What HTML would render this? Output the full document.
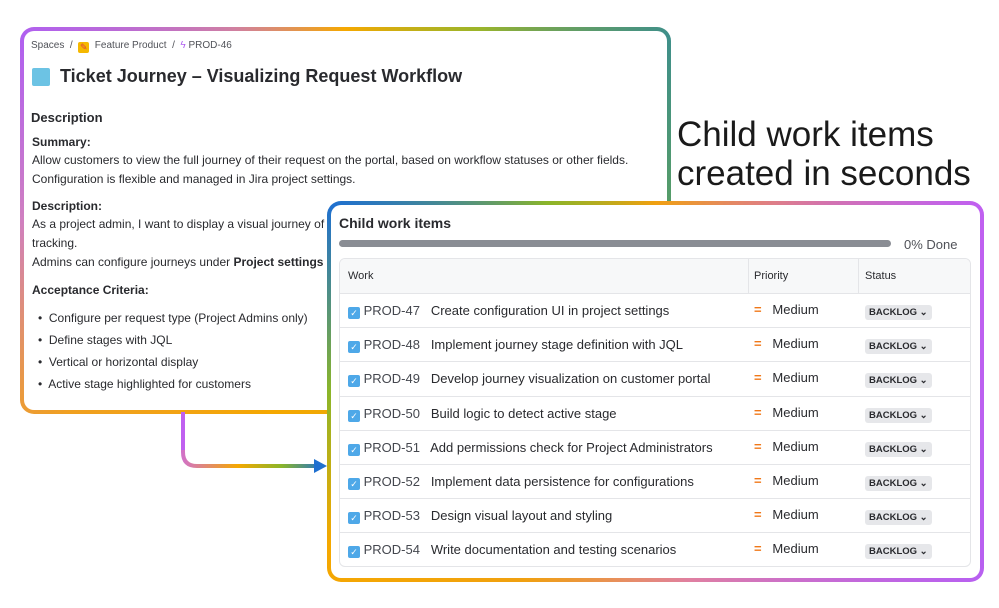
<!DOCTYPE html><html><head><style>
*{margin:0;padding:0;box-sizing:border-box}
body{width:999px;height:608px;background:#fff;position:relative;overflow:hidden;font-family:"Liberation Sans",sans-serif;color:#292a2e}
.a{position:absolute;white-space:nowrap}
.b1{position:absolute;left:20px;top:27px;width:651px;height:387px;border-radius:14px;padding:4px;background:conic-gradient(from 0deg at 50% 50%,#f5a800 0deg,#9bb52a 35deg,#3f8f8a 60deg,#6aa84a 110deg,#e3aa10 150deg,#f5a800 200deg,#f0a020 235deg,#d080c0 270deg,#b060f0 300deg,#d080a0 330deg,#f5a800 360deg)}
.b2{position:absolute;left:327px;top:201px;width:657px;height:381px;border-radius:14px;padding:4px;background:conic-gradient(from 0deg at 50% 50%,#f0a010 0deg,#e08080 30deg,#c060f0 60deg,#b860f0 120deg,#e080a0 170deg,#f0a010 215deg,#f5a800 245deg,#8ab52a 270deg,#1f70d0 300deg,#8ab52a 330deg,#f0a010 360deg)}
.in{width:100%;height:100%;background:#fff;border-radius:10px;position:relative}
.t{font-size:12px;color:#292a2e}
.cb{display:inline-block;width:12px;height:12px;background:#4ea8e8;border-radius:2px;color:#fff;font-size:9px;line-height:12px;text-align:center;vertical-align:-1px}
.pill{display:inline-block;background:#e6e7ea;border-radius:3px;font-size:9.5px;font-weight:bold;padding:2px 4px;color:#292a2e}
.row{position:absolute;left:0;width:631px;height:34px;border-top:1px solid #e4e5e8;font-size:13px}
</style></head><body>
<div class="b1"><div class="in"></div></div>
<div class="a t" style="left:31px;top:40px;font-size:10px;color:#505258">Spaces &nbsp;/ &nbsp;<span style="display:inline-block;width:11px;height:11px;background:#f5b800;border-radius:2px;vertical-align:-2px;color:#e04040;font-size:9px;line-height:11px;text-align:center">✎</span>&nbsp; Feature Product &nbsp;/ &nbsp;<span style="color:#b060f0">ϟ</span> PROD-46</div>
<div class="a" style="left:32px;top:68px;width:18px;height:18px;background:#6cc3e4;border-radius:2px"></div>
<div class="a" style="left:60px;top:66px;font-size:18px;font-weight:bold">Ticket Journey – Visualizing Request Workflow</div>
<div class="a" style="left:31px;top:110px;font-size:13px;font-weight:bold">Description</div>
<div class="a t" style="left:32px;top:135px;font-weight:bold">Summary:</div>
<div class="a t" style="left:32px;top:153px">Allow customers to view the full journey of their request on the portal, based on workflow statuses or other fields.</div>
<div class="a t" style="left:32px;top:172px">Configuration is flexible and managed in Jira project settings.</div>
<div class="a t" style="left:32px;top:199px;font-weight:bold">Description:</div>
<div class="a t" style="left:32px;top:217px">As a project admin, I want to display a visual journey of a</div>
<div class="a t" style="left:32px;top:236px">tracking.</div>
<div class="a t" style="left:32px;top:255px">Admins can configure journeys under <b>Project settings → A</b></div>
<div class="a t" style="left:32px;top:283px;font-weight:bold">Acceptance Criteria:</div>
<div class="a t" style="left:38px;top:311px">•&nbsp; Configure per request type (Project Admins only)</div>
<div class="a t" style="left:38px;top:333px">•&nbsp; Define stages with JQL</div>
<div class="a t" style="left:38px;top:355px">•&nbsp; Vertical or horizontal display</div>
<div class="a t" style="left:38px;top:377px">•&nbsp; Active stage highlighted for customers</div>
<div class="a" style="left:677px;top:115px;font-size:35px;line-height:39px;color:#1a1a1a">Child work items<br>created in seconds</div>
<svg class="a" style="left:0;top:0" width="999" height="608"><defs><linearGradient id="g" x1="180" y1="0" x2="325" y2="0" gradientUnits="userSpaceOnUse"><stop offset="0" stop-color="#d070d0"/><stop offset=".4" stop-color="#f5a800"/><stop offset=".7" stop-color="#8ab52a"/><stop offset="1" stop-color="#1f70d0"/></linearGradient></defs>
<path d="M183 412 V452 Q183 466 197 466 H316" fill="none" stroke="url(#g)" stroke-width="4"/>
<path d="M183 412 V450" stroke="#c060f0" stroke-width="4"/>
<path d="M314 459 L327 466 L314 473 Z" fill="#1f70d0"/></svg>
<div class="b2"><div class="in">
<div class="a" style="left:8px;top:10px;font-size:14px;font-weight:bold">Child work items</div>
<div class="a" style="left:8px;top:35px;width:552px;height:7px;background:#8a8d94;border-radius:4px"></div>
<div class="a" style="left:573px;top:32px;font-size:13px;color:#505258">0% Done</div>
<div class="a" style="left:8px;top:53px;width:632px;height:309px;border:1px solid #e4e5e8;border-radius:6px;overflow:hidden">
<div class="a" style="left:0;top:0;width:631px;height:34px;background:#f7f8f9;font-size:11px;color:#292a2e">
<span class="a" style="left:8px;top:11px">Work</span><span class="a" style="left:414px;top:11px">Priority</span><span class="a" style="left:525px;top:11px">Status</span>
<div class="a" style="left:408px;top:0;width:1px;height:34px;background:#e4e5e8"></div><div class="a" style="left:518px;top:0;width:1px;height:34px;background:#e4e5e8"></div></div>
<div id="rows"></div>
</div></div></div>
<script>
var items=[["47","Create configuration UI in project settings"],["48","Implement journey stage definition with JQL"],["49","Develop journey visualization on customer portal"],["50","Build logic to detect active stage"],["51","Add permissions check for Project Administrators"],["52","Implement data persistence for configurations"],["53","Design visual layout and styling"],["54","Write documentation and testing scenarios"]];
var h="";items.forEach(function(it,i){h+='<div class="row" style="top:'+(34+i*34.2)+'px"><span class="a" style="left:8px;top:9px"><span class="cb">✓</span> <span style="color:#44474e">PROD-'+it[0]+'</span>&nbsp;&nbsp; '+it[1]+'</span><span class="a" style="left:414px;top:8px"><span style="color:#f07818;font-weight:bold">=</span>&nbsp;&nbsp; Medium</span><span class="a" style="left:525px;top:9px"><span class="pill">BACKLOG ⌄</span></span></div>'});
document.getElementById("rows").innerHTML=h;
</script>
</body></html>
